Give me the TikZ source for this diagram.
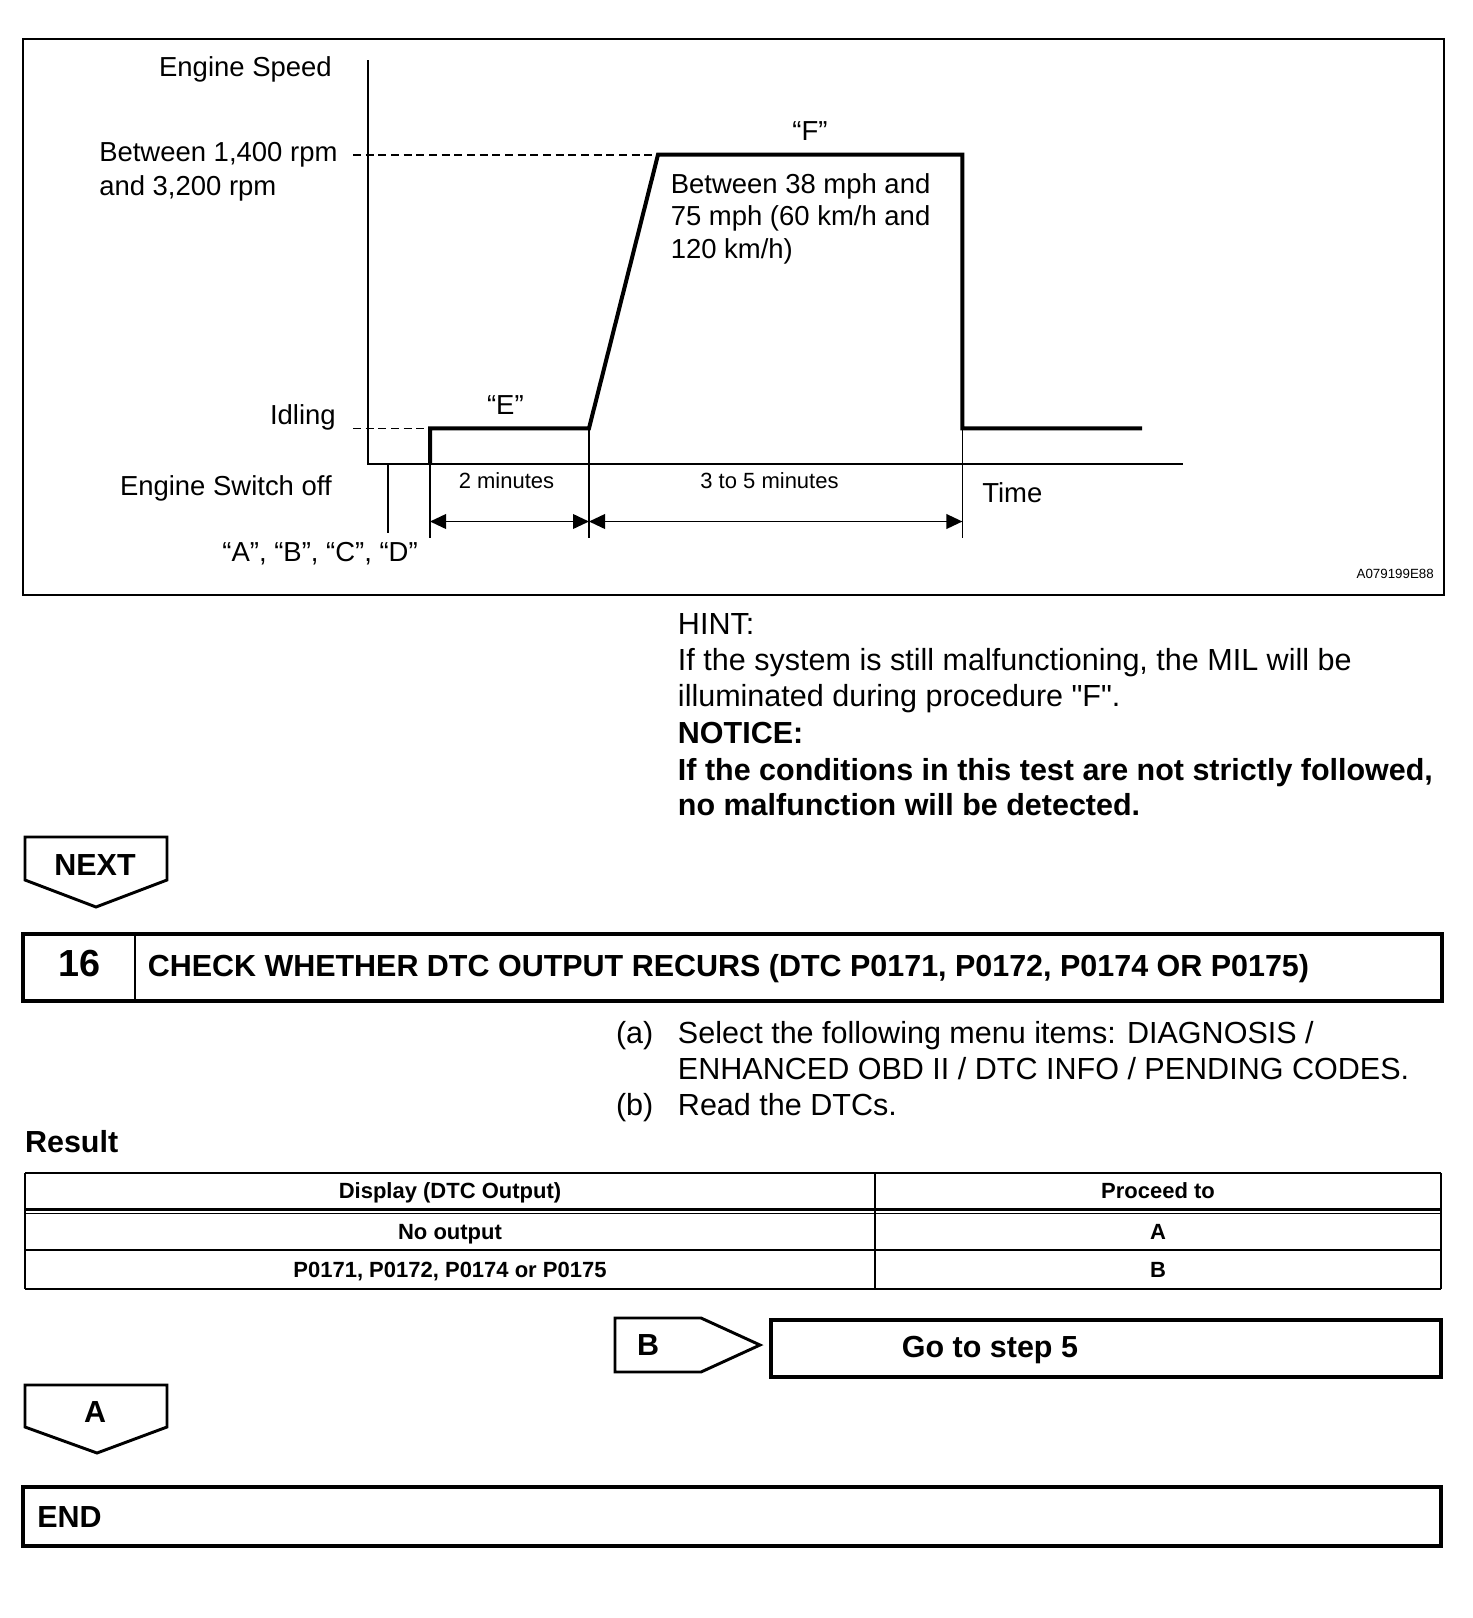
\documentclass[tikz,border=0pt]{standalone}
\usepackage{fontspec}
\setmainfont{Liberation Sans}
\newfontfamily\rawfont{Liberation Sans}[Ligatures=TeXOff]
\usetikzlibrary{arrows.meta}
\begin{document}
\begin{tikzpicture}[x=0.75pt,y=-0.75pt,
  chart/.style={font=\fontsize{20.6}{24}\selectfont, inner sep=0pt, yshift=-4.6pt},
  small/.style={font=\fontsize{16.5}{19}\selectfont, inner sep=0pt, yshift=-3.1pt},
  tiny/.style={font=\fontsize{10}{12}\selectfont, inner sep=0pt, yshift=-1.5pt},
  body/.style={font=\fontsize{22.9}{27}\selectfont, inner sep=0pt, yshift=-5.4pt},
  bodyb/.style={font=\fontsize{22.85}{27}\selectfont\bfseries, inner sep=0pt, yshift=-5.6pt},
  tab/.style={font=\fontsize{16.5}{19}\selectfont\bfseries, inner sep=0pt, yshift=-3.1pt},
  trace/.style={line width=3pt, line join=miter},
  tick/.style={line width=1.1pt},
  dashline/.style={line width=1.2pt, dash pattern=on 6pt off 3.5pt},
  dimarrow/.style={line width=1.3pt, {Triangle[length=12pt,width=11pt]}-{Triangle[length=12pt,width=11pt]}},
  boxline/.style={line width=3pt},
  tagline/.style={line width=2.2pt, line join=miter},
  ]
\useasboundingbox (0,0) rectangle (1472,1618);

% ---------- chart frame ----------
\draw[line width=1.7pt] (22.7,39.2) rectangle (1444,595);

% axes
\coordinate (ytop) at (368,60);
\coordinate (orig) at (368,464);
\coordinate (xend) at (1183,464);
\draw[line width=1.5pt] (ytop) -- (orig) -- (xend);

% key points
\coordinate (dhi) at (353,154.7);
\coordinate (dlo) at (353,428.3);
\coordinate (p0) at (430,464);
\coordinate (p1) at (430,428.3);
\coordinate (p2) at (589,428.3);
\coordinate (p3) at (658,154.7);
\coordinate (p4) at (962.4,154.7);
\coordinate (p5) at (962.4,428.3);
\coordinate (p6) at (1142,428.3);

\draw[dashline] (dhi) -- (p3);
\draw[dashline] (dlo) -- (p1);
\draw[trace] (p0) -- (p1) -- (p2) -- (p3) -- (p4) -- (p5) -- (p6);

% ticks
\coordinate (m0) at (388,464);
\coordinate (m0b) at (388,533);
\coordinate (t1b) at (430,538);
\coordinate (t2b) at (589,538);
\coordinate (t3b) at (962.4,538);
\draw[tick] (m0) -- (m0b);
\draw[tick] (p0) -- (t1b);
\draw[tick] (p2) -- (t2b);
\draw[tick] (p5) -- (t3b);

% dimension arrows
\coordinate (a1) at (430,521.5);
\coordinate (a2) at (589,521.5);
\coordinate (a3) at (962.4,521.5);
\draw[dimarrow] (a1) -- (a2);
\draw[dimarrow] (a2) -- (a3);

% chart labels
\node[chart, anchor=mid east] (lspeed) at (332,67) {Engine Speed};
\node[chart, anchor=mid west] (lrpm1) at (99,152) {Between 1,400 rpm};
\node[chart, anchor=mid west] (lrpm2) at (99,186) {and 3,200 rpm};
\node[chart, anchor=mid] (lF) at (810,131) {“F”};
\node[chart, anchor=mid west] (lmph1) at (670.5,184) {Between 38 mph and};
\node[chart, anchor=mid west] (lmph2) at (670.5,216) {75 mph (60 km/h and};
\node[chart, anchor=mid west] (lmph3) at (670.5,249) {120 km/h)};
\node[chart, anchor=mid east] (lidle) at (336,415) {Idling};
\node[chart, anchor=mid] (lE) at (505.4,405) {“E”};
\node[chart, anchor=mid east] (loff) at (332,486) {Engine Switch off};
\node[small, anchor=mid] (l2min) at (506.5,481) {2 minutes};
\node[small, anchor=mid] (l35min) at (769.5,481) {3 to 5 minutes};
\node[chart, anchor=mid west] (ltime) at (982,493) {Time};
\node[chart, anchor=mid east] (labcd) at (418,552) {“A”, “B”, “C”, “D”};
\node[tiny, anchor=mid east] (lcode) at (1434,572.5) {A079199E88};

% ---------- hint / notice ----------
\node[body, anchor=mid west] (hint) at (677.7,624) {HINT:};
\node[body, anchor=mid west] (hint1) at (677.7,660) {If the system is still malfunctioning, the MIL will be};
\node[body, anchor=mid west] (hint2) at (677.7,696) {\rawfont illuminated during procedure "F".};
\node[bodyb, anchor=mid west] (notice) at (677.7,732) {NOTICE:};
\node[bodyb, anchor=mid west] (notice1) at (677.7,769.5) {If the conditions in this test are not strictly followed,};
\node[bodyb, anchor=mid west] (notice2) at (677.7,804.6) {no malfunction will be detected.};

% ---------- NEXT tag ----------
\draw[tagline] (25,837) -- (167,837) -- (167,880) -- (96,907) -- (25,880) -- cycle;
\node[bodyb, anchor=mid] (next) at (95,864.4) {NEXT};

% ---------- step 16 ----------
\draw[boxline] (23,933.5) rectangle (1442,1001);
\draw[line width=2.2pt] (135,933.5) -- (135,1001);
\node[font=\fontsize{28.3}{32}\selectfont\bfseries, inner sep=0pt, anchor=mid, yshift=-6.2pt] (num) at (79.4,965) {16};
\node[bodyb, anchor=mid west] (title) at (147.5,965) {CHECK WHETHER DTC OUTPUT RECURS (DTC P0171, P0172, P0174 OR P0175)};

% ---------- procedure ----------
\node[body, anchor=mid west] (pa) at (615.8,1032.5) {(a)};
\node[body, anchor=mid west] (pa1) at (677.7,1032.5) {Select the following menu items: DIAGNOSIS /};
\node[body, anchor=mid west] (pa2) at (677.7,1068.6) {ENHANCED OBD II / DTC INFO / PENDING CODES.};
\node[body, anchor=mid west] (pb) at (615.8,1104.7) {(b)};
\node[body, anchor=mid west] (pb1) at (677.7,1104.7) {Read the DTCs.};
\node[bodyb, anchor=mid west] (result) at (24.8,1141) {Result};

% ---------- table ----------
\draw[line width=1.3pt] (25,1173) -- (1441,1173);
\draw[line width=1.3pt] (25,1173) -- (25,1289);
\draw[line width=1.3pt] (1441,1173) -- (1441,1289);
\draw[line width=1.8pt] (25,1289) -- (1441,1289);
\draw[line width=1.8pt] (25,1209.5) -- (1441,1209.5);
\draw[line width=1pt] (25,1213.2) -- (1441,1213.2);
\draw[line width=1pt] (25,1250) -- (1441,1250);
\draw[line width=1pt] (875,1173) -- (875,1289);
\node[tab, anchor=mid] (h1) at (450,1191) {Display (DTC Output)};
\node[tab, anchor=mid] (h2) at (1158,1191) {Proceed to};
\node[tab, anchor=mid] (r11) at (450,1231.5) {No output};
\node[tab, anchor=mid] (r12) at (1158,1231.5) {A};
\node[tab, anchor=mid] (r21) at (450,1269.5) {P0171, P0172, P0174 or P0175};
\node[tab, anchor=mid] (r22) at (1158,1269.5) {B};

% ---------- B branch ----------
\draw[tagline] (615,1318) -- (701,1318) -- (760,1345) -- (701,1372) -- (615,1372) -- cycle;
\node[bodyb, anchor=mid] (tagB) at (648,1344) {B};
\draw[boxline] (771,1320) rectangle (1441,1377);
\node[bodyb, anchor=mid, yshift=-0.6pt] (goto) at (990,1346) {Go to step 5};

% ---------- A branch ----------
\draw[tagline] (25,1385) -- (167,1385) -- (167,1427) -- (97,1453) -- (25,1427) -- cycle;
\node[bodyb, anchor=mid] (tagA) at (95,1411) {A};

% ---------- END ----------
\draw[boxline] (22.7,1487.4) rectangle (1441,1546);
\node[bodyb, anchor=mid west, yshift=-0.6pt] (endt) at (37,1515.3) {END};
\end{tikzpicture}
\end{document}
